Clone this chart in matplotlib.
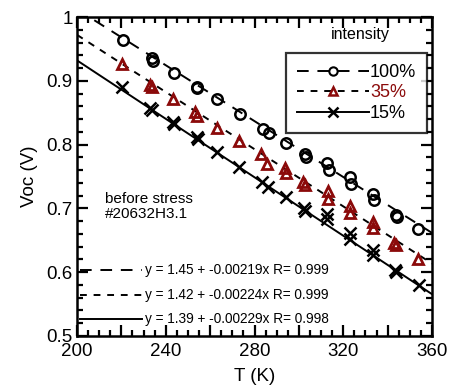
import matplotlib
matplotlib.use("Agg")
import matplotlib.pyplot as plt
import numpy as np
from matplotlib.ticker import MultipleLocator, FixedLocator, FuncFormatter
from matplotlib.lines import Line2D

plt.rcParams['font.family'] = ['Liberation Sans', 'DejaVu Sans']

# Temperatures (K), two repeated measurements at most set points
T100 = [220.6, 233.6, 234.2, 243.7, 253.9, 254.3, 263.2, 273.4, 283.9, 286.6,
        294.4, 302.7, 303.0, 312.5, 313.6, 323.2, 323.4, 333.5, 333.7, 343.7, 344.0, 353.7]
V100 = [0.964, 0.935, 0.931, 0.912, 0.891, 0.888, 0.871, 0.848, 0.824, 0.818,
        0.803, 0.786, 0.781, 0.771, 0.760, 0.749, 0.739, 0.723, 0.713, 0.690, 0.686, 0.667]

T35 = [220.1, 232.9, 233.9, 243.1, 253.2, 254.1, 263.2, 273.1, 283.1, 285.7,
       293.7, 294.4, 302.0, 302.9, 313.0, 313.2, 323.0, 323.1, 333.2, 333.3, 342.8, 343.6, 353.7]
V35 = [0.926, 0.893, 0.890, 0.871, 0.851, 0.845, 0.826, 0.805, 0.785, 0.770,
       0.763, 0.755, 0.742, 0.737, 0.728, 0.715, 0.704, 0.693, 0.679, 0.669, 0.645, 0.642, 0.620]

T15 = [220.1, 232.9, 233.8, 243.1, 243.9, 253.9, 254.6, 262.9, 273.1, 283.6, 286.1,
       294.1, 302.3, 302.9, 312.7, 312.8, 323.0, 323.1, 333.2, 333.3, 343.2, 343.7, 354.0]
V15 = [0.891, 0.857, 0.854, 0.836, 0.833, 0.812, 0.809, 0.789, 0.765, 0.742, 0.733,
       0.718, 0.700, 0.696, 0.691, 0.683, 0.662, 0.652, 0.635, 0.627, 0.603, 0.600, 0.580]

# Linear fits: intercept, slope, R
fit100 = (1.45, -0.00219, 0.999)
fit35 = (1.42, -0.00224, 0.999)
fit15 = (1.39, -0.00229, 0.998)

labels = ["100%", "35%", "15%"]
x_ticks = [200, 240, 280, 320, 360]
y_ticks = [0.5, 0.6, 0.7, 0.8, 0.9, 1.0]

red = "#8b0a0a"
dash100 = (0, (6, 4.5))
dash35 = (0, (3.5, 3.5))

fig = plt.figure(figsize=(4.51, 3.90), dpi=100)
ax = fig.add_axes([77 / 451, 1 - 336 / 390, (432 - 77) / 451, (336 - 17) / 390])

xs = np.linspace(200, 360, 200)
for (a, b, r), ls in [(fit100, dash100), (fit35, dash35), (fit15, '-')]:
    ax.plot(xs, a + b * xs, color='black', lw=1.4, linestyle=ls, zorder=2)

ms = 7.5
ax.plot(T100, V100, linestyle='none', marker='o', ms=ms, mfc='none', mec='black', mew=1.8, zorder=3)
ax.plot(T35, V35, linestyle='none', marker='^', ms=ms, mfc='none', mec=red, mew=2.0, zorder=3)
ax.plot(T15, V15, linestyle='none', marker='x', ms=ms + 1, mec='black', mew=1.8, zorder=3)

ax.set_xlim(200, 360)
ax.set_ylim(0.5, 1.0)

ax.xaxis.set_major_locator(MultipleLocator(20))
ax.xaxis.set_minor_locator(MultipleLocator(5))
ax.xaxis.set_major_formatter(FuncFormatter(lambda v, p: f"{int(round(v))}" if int(round(v)) in x_ticks else ""))
ax.yaxis.set_major_locator(FixedLocator(y_ticks))
ax.yaxis.set_minor_locator(MultipleLocator(0.02))
ax.yaxis.set_major_formatter(FuncFormatter(lambda v, p: "1" if abs(v - 1) < 1e-9 else f"{v:.1f}"))

ax.tick_params(which='both', direction='in', top=True, right=True, width=1.6, labelsize=13.5)
ax.tick_params(axis='x', pad=5)
ax.tick_params(axis='y', pad=3)
ax.tick_params(which='major', length=8)
ax.tick_params(which='minor', length=4.5)
for s in ax.spines.values():
    s.set_linewidth(1.8)

ax.set_xlabel("T (K)", fontsize=13.5, labelpad=6)
ax.set_ylabel("Voc (V)", fontsize=13.5, labelpad=6)

ax.text(0.08, 0.452, "before stress\n#20632H3.1", transform=ax.transAxes,
        fontsize=11, va='top', ha='left', linespacing=1.15)

# Fit equations drawn with their line style samples
fit_rows = [(fit100, dash100), (fit35, dash35), (fit15, '-')]
row_y = [0.603, 0.564, 0.526]
for (fit, ls), yy in zip(fit_rows, row_y):
    a, b, r = fit
    ax.plot([201.5, 229.5], [yy, yy], color='black', lw=1.4, linestyle=ls, zorder=2)
    ax.text(230.5, yy, f"y = {a:.2f} + {b:.5f}x R= {r:.3f}", fontsize=9.8, va='center', ha='left')

ax.text(0.797, 0.944, "intensity", transform=ax.transAxes, fontsize=11.5, ha='center', va='center')

handles = [
    Line2D([], [], color='black', lw=1.4, linestyle=dash100, marker='o', ms=6, mfc='none', mew=1.5),
    Line2D([], [], color='black', lw=1.4, linestyle=dash35, marker='^', ms=6, mfc='none', mec=red, mew=1.8),
    Line2D([], [], color='black', lw=1.4, linestyle='-', marker='x', ms=7, mew=1.8),
]
leg = ax.legend(handles, labels, loc='upper right', bbox_to_anchor=(0.986, 0.887), fontsize=13,
                frameon=True, fancybox=False, edgecolor='black', handlelength=4.0,
                handletextpad=0.05, labelspacing=0.2, borderpad=0.6, borderaxespad=0)
leg.get_frame().set_linewidth(1.6)
leg.get_texts()[1].set_color(red)

fig.savefig("out.png", dpi=100)
